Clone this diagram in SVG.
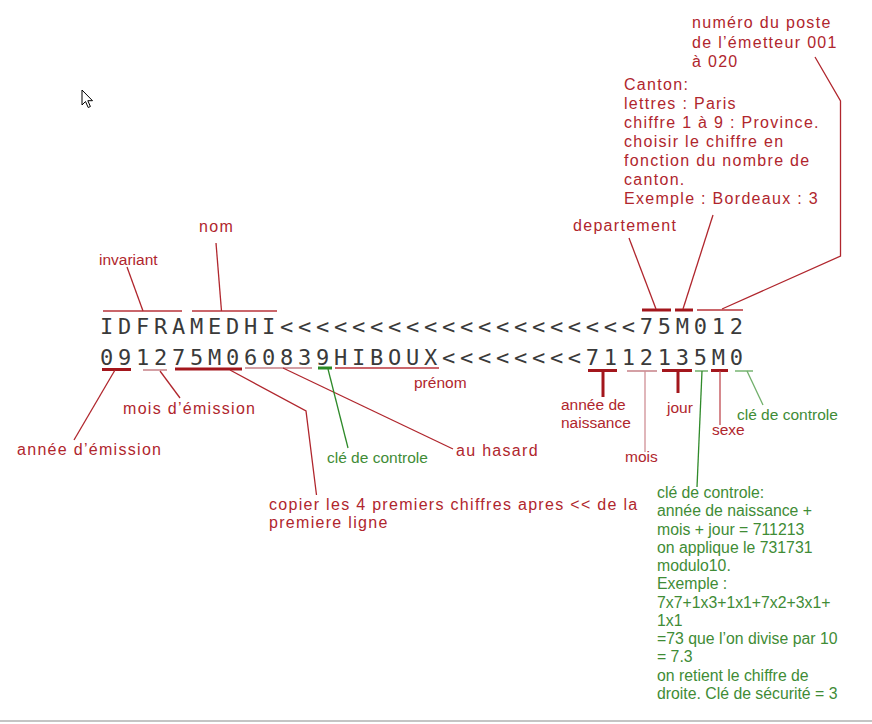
<svg xmlns="http://www.w3.org/2000/svg" width="872" height="724" viewBox="0 0 872 724">
<style>
.mono{font-family:"DejaVu Sans Mono","Liberation Mono",monospace;font-size:22px;letter-spacing:4.75px;fill:#3a3a3a}
.w{font-family:"Liberation Sans",Arial,sans-serif;font-size:16px;letter-spacing:1.3px;fill:#b0262d}
.n{font-family:"Liberation Sans",Arial,sans-serif;font-size:15.5px;fill:#b0262d}
.g{font-family:"Liberation Sans",Arial,sans-serif;font-size:15.5px;fill:#3f8c36}
.gb{font-family:"Liberation Sans",Arial,sans-serif;font-size:15.8px;fill:#3f8c36}
.c{stroke:#b0262d;stroke-width:1.3;fill:none}
.thick{stroke:#a3161c;stroke-width:3}
.thin{stroke:#b8333a;stroke-width:1.5}
.light{stroke:#d4a0a5;stroke-width:2}
.cg{stroke:#2f8a2a;stroke-width:1.3;fill:none}
.lg{stroke:#99c795;stroke-width:2}
</style>
<rect width="872" height="724" fill="#ffffff"/>
<line x1="0" y1="721" x2="872" y2="721" stroke="#c4c4c4" stroke-width="2"/>
<path d="M82,90 L82,105 L85.5,101.5 L88.2,107.5 L90.4,106.5 L87.8,100.7 L92.5,100.7 Z" fill="#fff" stroke="#000" stroke-width="1" stroke-linejoin="miter"/>

<g id="mrz">
<text class="mono" x="100" y="333.5">IDFRAMEDHI&lt;&lt;&lt;&lt;&lt;&lt;&lt;&lt;&lt;&lt;&lt;&lt;&lt;&lt;&lt;&lt;&lt;&lt;&lt;&lt;75M012</text>
<text class="mono" x="100" y="364.5">091275M060839HIBOUX&lt;&lt;&lt;&lt;&lt;&lt;&lt;&lt;7112135M0</text>
</g>

<g id="connectors">
<!-- line 1 brackets -->
<line class="thin" x1="103" y1="311" x2="182" y2="311" stroke="#c4545a"/>
<line class="thin" x1="192" y1="311" x2="277" y2="311" stroke-width="2"/>
<line class="thick" x1="642" y1="310" x2="671" y2="310"/>
<line class="thick" x1="675" y1="310" x2="693" y2="310"/>
<line class="thin" x1="697" y1="310" x2="743" y2="310"/>
<line class="c" x1="127" y1="267" x2="143" y2="311"/>
<line class="c" x1="216" y1="243" x2="221.5" y2="311"/>
<line class="c" x1="629" y1="238" x2="656" y2="309"/>
<line class="c" x1="713" y1="215" x2="683" y2="309"/>
<polyline class="c" points="815,57 840.5,101 840.5,256 722,309"/>
<!-- line 2 brackets -->
<line class="thick" x1="102" y1="369.5" x2="131" y2="369.5"/>
<line class="light" x1="143" y1="370" x2="167" y2="370"/>
<line class="thick" x1="175" y1="369" x2="242" y2="369"/>
<line class="light" x1="245" y1="368" x2="312" y2="368" stroke="#d2b3b6"/>
<line x1="318" y1="368" x2="332" y2="368" stroke="#2a8a25" stroke-width="3"/>
<line class="thin" x1="335" y1="368" x2="439" y2="368"/>
<line class="c" x1="115" y1="370" x2="74" y2="440"/>
<line class="c" x1="160" y1="371" x2="180" y2="398"/>
<polyline class="c" points="230,370 306,411 316.5,495"/>
<line class="c" x1="283" y1="368" x2="453" y2="449"/>
<line class="cg" x1="328" y1="369" x2="348" y2="448"/>
<!-- right side of line 2 -->
<line class="thick" x1="588" y1="370.5" x2="617" y2="370.5"/>
<line class="thick" x1="603" y1="370.5" x2="603" y2="397"/>
<line class="light" x1="627" y1="371" x2="657" y2="371"/>
<line x1="645" y1="371" x2="645" y2="452" stroke="#d08f95" stroke-width="1.3"/>
<line class="thick" x1="662" y1="370.5" x2="692" y2="370.5"/>
<line class="thick" x1="678" y1="370.5" x2="678" y2="393"/>
<line x1="695" y1="371" x2="708" y2="371" stroke="#6fae69" stroke-width="1.5"/>
<line class="cg" x1="702" y1="371" x2="697" y2="487"/>
<line class="thick" x1="711" y1="370.5" x2="728" y2="370.5" stroke-width="2.5"/>
<line x1="720" y1="371" x2="720" y2="425" stroke="#c04a50" stroke-width="1.3"/>
<line class="lg" x1="735" y1="371" x2="753" y2="371"/>
<line x1="747" y1="371" x2="763" y2="405" stroke="#6fae69" stroke-width="1.3"/>
</g>

<g id="label-numero">
<text class="w" x="692" y="28" letter-spacing="1.2">numéro du poste</text>
<text class="w" x="692" y="47.5" letter-spacing="1.2">de l’émetteur 001</text>
<text class="w" x="692" y="67" letter-spacing="1.2">à 020</text>
</g>
<g id="label-canton">
<text class="w" x="624" y="89.5" letter-spacing="1.1">Canton:</text>
<text class="w" x="624" y="108.5" letter-spacing="1.1">lettres : Paris</text>
<text class="w" x="624" y="127.5" letter-spacing="0.9">chiffre 1 à 9 : Province.</text>
<text class="w" x="624" y="146.5" letter-spacing="1.1">choisir le chiffre en</text>
<text class="w" x="624" y="165.5" letter-spacing="1.2">fonction du nombre de</text>
<text class="w" x="624" y="184.5" letter-spacing="1.1">canton.</text>
<text class="w" x="624" y="203.5" letter-spacing="1.1">Exemple : Bordeaux : 3</text>
</g>
<g id="label-departement"><text class="w" x="573" y="231" letter-spacing="1.1">departement</text></g>
<g id="label-nom"><text class="w" x="199" y="232" letter-spacing="0.4">nom</text></g>
<g id="label-invariant"><text class="n" x="99" y="265">invariant</text></g>
<g id="label-prenom"><text class="n" x="414" y="388">prénom</text></g>
<g id="label-mois-emission"><text class="w" x="123" y="414">mois d’émission</text></g>
<g id="label-annee-emission"><text class="w" x="17" y="455" letter-spacing="1.25">année d’émission</text></g>
<g id="label-cle-gauche"><text class="g" x="327" y="463">clé de controle</text></g>
<g id="label-hasard"><text class="w" x="456" y="456" letter-spacing="1.2">au hasard</text></g>
<g id="label-copier">
<text class="w" x="269" y="510">copier les 4 premiers chiffres apres &lt;&lt; de la</text>
<text class="w" x="269" y="528">premiere ligne</text>
</g>
<g id="label-annee-naissance">
<text class="n" x="561" y="410">année de</text>
<text class="n" x="561" y="428">naissance</text>
</g>
<g id="label-mois"><text class="n" x="625" y="462">mois</text></g>
<g id="label-jour"><text class="n" x="667" y="413">jour</text></g>
<g id="label-sexe"><text class="n" x="712" y="435">sexe</text></g>
<g id="label-cle-droite"><text class="g" x="737" y="420">clé de controle</text></g>
<g id="label-cle-explication">
<text class="gb" x="657" y="498">clé de controle:</text>
<text class="gb" x="657" y="516.3">année de naissance +</text>
<text class="gb" x="657" y="534.5">mois + jour = 711213</text>
<text class="gb" x="657" y="552.8">on applique le 731731</text>
<text class="gb" x="657" y="571.1">modulo10.</text>
<text class="gb" x="657" y="589.4">Exemple :</text>
<text class="gb" x="657" y="607.6">7x7+1x3+1x1+7x2+3x1+</text>
<text class="gb" x="657" y="625.9">1x1</text>
<text class="gb" x="657" y="644.2">=73 que l’on divise par 10</text>
<text class="gb" x="657" y="662.4">= 7.3</text>
<text class="gb" x="657" y="680.7">on retient le chiffre de</text>
<text class="gb" x="657" y="699">droite. Clé de sécurité = 3</text>
</g>
</svg>
